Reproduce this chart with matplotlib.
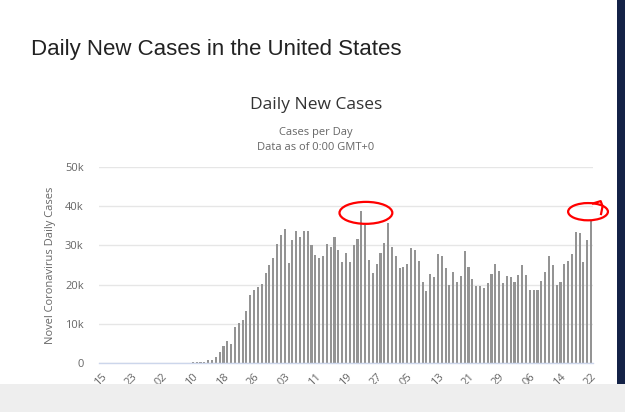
import matplotlib
matplotlib.use("Agg")
import matplotlib.pyplot as plt
from matplotlib.patches import Ellipse, Rectangle
import numpy as np
import pandas as pd

# daily new cases, Feb 15 .. Jun 22
cases = [
    0, 0, 0, 0, 0, 0, 0, 0, 0, 0, 0, 0, 0, 0, 0,            # Feb 15-29
    8, 20, 22, 30, 55, 70, 90, 105, 120, 140, 160,          # Mar 1-11
    250, 250, 760, 760, 1440, 2880, 4400, 5500, 4830, 9300,
    10250, 10850, 13300, 17300, 18700, 19400, 20100, 23000, 25000, 26800,
    30300, 32600, 34300, 25600, 31400, 33800, 32200, 33800, 33800, 30100,
    27500, 26800, 27200, 30300, 29700, 32100, 28800, 25800, 28000, 25800,
    30100, 31600, 38700, 35300, 26300, 23000, 25300, 28100, 30500, 35700,
    29600, 27200, 24300, 24600, 25300, 29300, 28800, 26000, 20700, 18400,
    22700, 22000, 27700, 27200, 24200, 19800, 23100, 20600, 22200, 28600,
    24400, 21500, 19700, 19700, 19200, 20300, 22700, 25300, 23500, 20400,
    22200, 22000, 20700, 22500, 25000, 22500, 18700, 18700, 18700, 20800,
    23200, 27200, 25100, 19900, 20600, 25300, 26000, 27700, 33400, 33100,
    25800, 31300, 36500,
]
dates = pd.date_range("2020-02-15", periods=len(cases), freq="D")
y_ticks = [0, 10000, 20000, 30000, 40000, 50000]
y_labels = ["0", "10k", "20k", "30k", "40k", "50k"]

W, H = 625, 412
fig = plt.figure(figsize=(W / 100, H / 100), dpi=100)
fig.patch.set_facecolor("white")

ax = fig.add_axes([99 / W, (H - 363) / H, 494 / W, 196 / H])
x = np.arange(len(cases))
ax.bar(x, cases, width=0.55, color="#949494", linewidth=0, zorder=3)

ax.set_xlim(-0.5, len(cases) - 0.5)
ax.set_ylim(0, 50000)
ax.set_yticks(y_ticks)
ax.set_yticklabels(y_labels, fontfamily="Open Sans", fontsize=8, color="#666666")
ax.yaxis.grid(True, color="#e6e6e6", linewidth=1, zorder=0)
ax.tick_params(axis="y", length=0, pad=11)

xt = x[::8]
ax.set_xticks(xt)
ax.set_xticklabels([d.strftime("%d") for d in dates[::8]], rotation=45, ha="right",
                   va="top", rotation_mode="anchor", fontfamily="Open Sans",
                   fontsize=8, color="#666666")
ax.tick_params(axis="x", length=0, pad=6)

for s in ["top", "right", "left"]:
    ax.spines[s].set_visible(False)
ax.spines["bottom"].set_color("#ccd6eb")
ax.spines["bottom"].set_linewidth(1)
ax.spines["bottom"].set_zorder(4)
ax.set_facecolor("white")

ax.set_ylabel("Novel Coronavirus Daily Cases", fontfamily="Open Sans", fontsize=8,
              color="#666666")
ax.yaxis.set_label_coords(-0.088, 0.5)

# titles
fig.text(31 / W, 1 - 55 / H, "Daily New Cases in the United States",
         fontfamily="Liberation Sans", fontsize=16, color="#222222", va="baseline")
fig.text(316 / W, 1 - 109 / H, "Daily New Cases", fontfamily="Open Sans",
         fontsize=12.5, color="#333333", ha="center", va="baseline")
fig.text(316 / W, 1 - 135 / H, "Cases per Day", fontfamily="Open Sans",
         fontsize=8, color="#666666", ha="center", va="baseline")
fig.text(316 / W, 1 - 150 / H, "Data as of 0:00 GMT+0", fontfamily="Open Sans",
         fontsize=8, color="#666666", ha="center", va="baseline")

# red hand-drawn circles around the peaks
ax.add_patch(Ellipse((69.2, 38300), 13.8, 5600, fill=False,
                     edgecolor="red", linewidth=1.6, clip_on=False, zorder=5))
ax.add_patch(Ellipse((127.2, 38600), 10.4, 4400, fill=False,
                     edgecolor="red", linewidth=1.6, clip_on=False, zorder=5))
ax.plot([128.5, 130.5, 131.0, 130.6], [40700, 41300, 40000, 38000], color="red",
        linewidth=1.6, clip_on=False, zorder=5)

# screenshot frame: dark strip on the right, grey strip at the bottom
fig.patches.append(Rectangle((617 / W, 27 / H), 8 / W, 1, transform=fig.transFigure,
                             facecolor="#142247", edgecolor="none", zorder=10))
fig.patches.append(Rectangle((0, 0), 1, 28 / H, transform=fig.transFigure,
                             facecolor="#eeeeee", edgecolor="none", zorder=10))

fig.savefig("out.png", dpi=100)
